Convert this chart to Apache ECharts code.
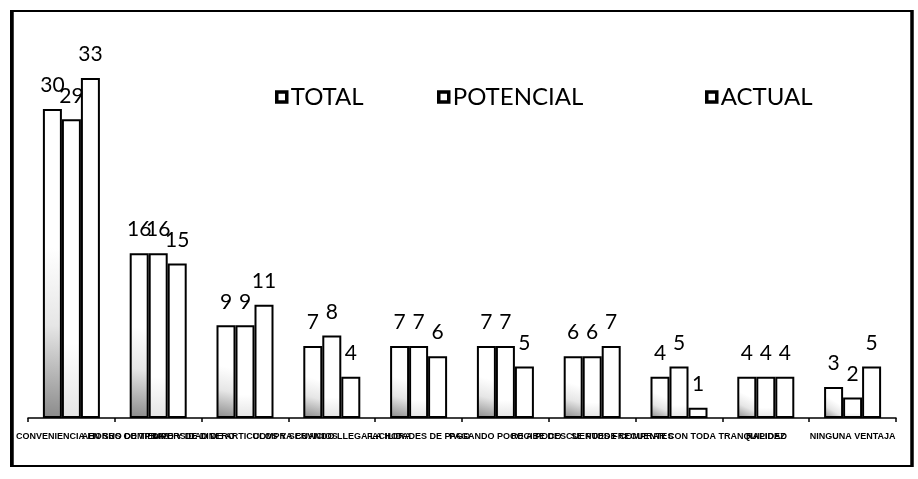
<!DOCTYPE html>
<html>
<head>
<meta charset="utf-8">
<script src="https://cdn.jsdelivr.net/npm/echarts@6/dist/echarts.min.js"></script>
<style>
  html, body { margin: 0; padding: 0; background: #fff; }
  #chart { width: 918px; height: 479px; }
</style>
</head>
<body>
<div id="chart"></div>
<script>
// Ventajas mencionadas por los encuestados (porcentajes)
const categories = [
  'OBTIENE CONVENIENCIA EN SUS COMPRAS',
  'AHORRO DE TIEMPO Y DE DINERO',
  'DIVERSIDAD DE ARTICULOS Y SERVICIOS',
  'COMPRA CUANDO LLEGA LA HORA',
  'FACILIDADES DE PAGO',
  'PAGANDO POCO A POCO',
  'RECIBE DESCUENTOS FRECUENTES',
  'SE PUEDE COMPRAR CON TODA TRANQUILIDAD',
  'RAPIDEZ',
  'NINGUNA VENTAJA'
];
const seriesNames = ['TOTAL', 'POTENCIAL', 'ACTUAL'];
const totalValues     = [30, 16, 9, 7, 7, 7, 6, 4, 4, 3];
const potencialValues = [29, 16, 9, 8, 7, 7, 6, 5, 4, 2];
const actualValues    = [33, 15, 11, 4, 6, 5, 7, 1, 4, 5];

const chart = echarts.init(document.getElementById('chart'), null, { renderer: 'canvas' });

const FONT = 'Lato, "Liberation Sans", sans-serif';

const labelStyle = {
  show: true,
  position: 'top',
  distance: 13,
  color: '#000',
  fontFamily: FONT,
  fontSize: 21
};

function barSeries(name, data, fill) {
  return {
    name: name,
    type: 'bar',
    data: data,
    barWidth: 19,
    barGap: '0%',
    itemStyle: { color: fill, borderColor: '#000', borderWidth: 2 },
    label: labelStyle
  };
}

const totalFill = new echarts.graphic.LinearGradient(0, 1, 1, 0, [
  { offset: 0, color: '#8a8a8a' },
  { offset: 0.3, color: '#e6e6e6' },
  { offset: 0.55, color: '#ffffff' },
  { offset: 1, color: '#ffffff' }
]);
const potencialFill = new echarts.graphic.LinearGradient(0, 1, 0, 0, [
  { offset: 0, color: '#e4e4e4' },
  { offset: 0.25, color: '#ffffff' },
  { offset: 1, color: '#ffffff' }
]);

// one legend block per series, each placed on its own
const legendLefts = [270, 432, 700];
const legends = seriesNames.map((name, i) => ({
  left: legendLefts[i],
  top: 80,
  itemWidth: 10,
  itemHeight: 10,
  icon: 'rect',
  itemStyle: { color: '#fff', borderColor: '#000', borderWidth: 3.5 },
  textStyle: { color: '#000', fontSize: 24, fontFamily: FONT, padding: [0, 0, 0, -1] },
  data: [name]
}));

chart.setOption({
  backgroundColor: '#fff',
  animation: false,
  legend: legends,
  grid: { left: 28, right: 22, top: 57.5, bottom: 61, outerBoundsMode: 'none', containLabel: false },
  xAxis: {
    type: 'category',
    data: categories,
    axisLine: { lineStyle: { color: '#000', width: 1.5 } },
    axisTick: { show: true, length: 4, lineStyle: { color: '#000', width: 1.5 } },
    axisLabel: {
      interval: 0,
      margin: 14,
      color: '#000',
      fontWeight: 'bold',
      fontSize: 9,
      fontFamily: '"Liberation Sans", Arial, sans-serif'
    }
  },
  yAxis: { type: 'value', min: 0, max: 35, show: false, splitLine: { show: false } },
  series: [
    barSeries(seriesNames[0], totalValues, totalFill),
    barSeries(seriesNames[1], potencialValues, potencialFill),
    barSeries(seriesNames[2], actualValues, '#ffffff')
  ],
  graphic: [
    // white margin outside the frame, hides text overflowing on the left
    { type: 'rect', left: 0, top: 0, z: 100, shape: { width: 11, height: 479 }, style: { fill: '#fff' } },
    // frame around the chart
    { type: 'rect', z: 101, shape: { x: 11, y: 11, width: 901, height: 455 }, style: { fill: null, stroke: '#000', lineWidth: 2 } },
    { type: 'line', z: 102, shape: { x1: 12, y1: 10, x2: 12, y2: 467 }, style: { stroke: '#000', lineWidth: 3.5 } },
    { type: 'line', z: 102, shape: { x1: 912, y1: 10, x2: 912, y2: 467 }, style: { stroke: '#000', lineWidth: 3.5 } }
  ]
});
</script>
</body>
</html>
